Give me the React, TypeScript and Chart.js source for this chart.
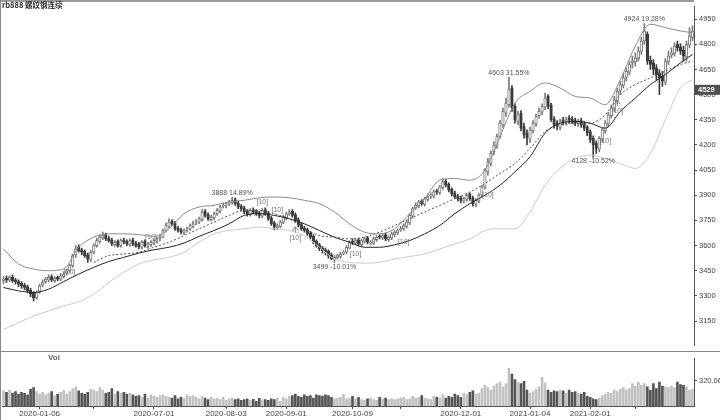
import React, { useEffect, useRef } from "react";
import { Chart, registerables } from "chart.js";
Chart.register(...registerables);

const title = "rb888 螺纹钢连续";

const opens = [
  3390,3405,3395,3410,3395,3385,3375,3365,3355,3335,
  3315,3290,3325,3365,3385,3395,3415,3390,3410,3400,
  3415,3435,3450,3480,3545,3590,3575,3565,3545,3515,
  3560,3600,3625,3645,3665,3645,3635,3605,3625,3600,
  3635,3625,3605,3635,3615,3610,3590,3625,3595,3605,
  3615,3625,3640,3650,3690,3715,3745,3735,3705,3695,
  3675,3690,3700,3715,3735,3740,3755,3805,3785,3755,
  3765,3790,3805,3835,3835,3855,3855,3875,3855,3835,
  3825,3805,3785,3815,3805,3795,3775,3815,3795,3765,
  3735,3705,3715,3740,3765,3790,3805,3785,3755,3725,
  3705,3695,3675,3655,3625,3605,3585,3575,3565,3545,
  3515,3530,3535,3555,3560,3585,3625,3615,3635,3605,
  3625,3645,3615,3615,3635,3655,3645,3665,3635,3645,
  3665,3675,3695,3700,3715,3735,3775,3825,3835,3865,
  3845,3875,3895,3895,3925,3915,3945,3985,3965,3935,
  3915,3895,3885,3865,3875,3905,3885,3845,3865,3900,
  3950,4040,4090,4160,4195,4250,4320,4390,4440,4540,
  4430,4340,4390,4310,4270,4235,4285,4325,4375,4395,
  4425,4490,4440,4355,4330,4305,4350,4335,4360,4355,
  4345,4325,4345,4325,4305,4280,4240,4210,4175,4235,
  4285,4325,4375,4420,4465,4525,4555,4605,4635,4690,
  4695,4715,4760,4820,4860,4705,4690,4660,4630,4610,
  4575,4695,4735,4745,4800,4785,4765,4725,4795,4840,
];

const highs = [
  3415,3420,3420,3425,3405,3395,3385,3375,3365,3345,
  3325,3330,3370,3395,3410,3425,3425,3415,3420,3435,
  3445,3460,3490,3550,3600,3605,3585,3575,3555,3570,
  3610,3645,3665,3680,3675,3655,3645,3630,3635,3640,
  3645,3635,3640,3645,3625,3620,3630,3635,3620,3630,
  3640,3650,3665,3700,3735,3760,3755,3745,3715,3705,
  3700,3710,3730,3745,3755,3770,3815,3815,3795,3780,
  3800,3820,3840,3855,3860,3870,3888,3885,3865,3845,
  3835,3815,3820,3825,3815,3805,3820,3825,3805,3775,
  3745,3730,3750,3780,3800,3815,3815,3795,3765,3735,
  3715,3705,3685,3665,3635,3615,3595,3585,3575,3555,
  3540,3550,3560,3570,3600,3630,3640,3640,3645,3640,
  3650,3655,3630,3650,3660,3665,3670,3675,3660,3680,
  3690,3700,3715,3730,3750,3790,3830,3855,3870,3875,
  3890,3905,3915,3930,3935,3960,4000,3995,3975,3945,
  3925,3905,3895,3890,3910,3915,3895,3880,3910,3960,
  4060,4120,4165,4220,4265,4345,4420,4480,4603,4555,
  4445,4400,4405,4330,4290,4305,4345,4385,4420,4445,
  4510,4500,4450,4370,4345,4355,4365,4365,4375,4370,
  4360,4355,4360,4340,4315,4290,4255,4225,4250,4300,
  4345,4395,4440,4490,4540,4580,4625,4660,4700,4730,
  4750,4785,4840,4924,4875,4730,4710,4680,4650,4640,
  4715,4760,4780,4810,4820,4805,4790,4820,4900,4910,
];

const lows = [
  3375,3380,3385,3380,3370,3355,3345,3335,3320,3295,
  3270,3280,3315,3355,3375,3385,3385,3380,3390,3390,
  3405,3425,3440,3470,3530,3560,3545,3530,3500,3505,
  3550,3590,3615,3635,3630,3620,3600,3595,3590,3590,
  3610,3600,3595,3600,3590,3580,3580,3590,3585,3595,
  3605,3615,3630,3645,3680,3705,3720,3690,3680,3670,
  3665,3680,3690,3705,3725,3730,3745,3770,3750,3745,
  3755,3780,3795,3825,3825,3840,3845,3840,3820,3805,
  3790,3775,3775,3790,3780,3765,3765,3780,3750,3720,
  3693,3695,3705,3730,3755,3780,3770,3740,3710,3690,
  3680,3660,3640,3610,3590,3570,3555,3545,3525,3515,
  3499,3520,3525,3545,3550,3580,3605,3605,3600,3595,
  3615,3610,3605,3605,3625,3640,3635,3630,3625,3635,
  3655,3665,3685,3690,3705,3725,3765,3815,3825,3840,
  3835,3865,3880,3885,3905,3905,3935,3950,3920,3895,
  3880,3865,3855,3855,3865,3870,3835,3830,3855,3890,
  3940,4020,4075,4140,4180,4240,4305,4370,4425,4400,
  4330,4320,4285,4240,4200,4215,4270,4310,4360,4380,
  4410,4415,4340,4300,4290,4290,4320,4320,4330,4325,
  4315,4310,4305,4285,4255,4215,4128,4150,4160,4220,
  4270,4310,4360,4400,4450,4500,4540,4580,4620,4660,
  4670,4700,4740,4800,4680,4650,4620,4590,4500,4550,
  4560,4680,4720,4730,4760,4740,4700,4700,4780,4820,
];

const closes = [
  3400,3395,3410,3390,3385,3370,3360,3350,3330,3310,
  3290,3320,3360,3380,3400,3410,3395,3405,3400,3420,
  3430,3450,3480,3540,3580,3570,3560,3540,3520,3560,
  3600,3630,3650,3660,3640,3630,3610,3620,3600,3630,
  3620,3610,3630,3610,3600,3590,3620,3600,3610,3620,
  3630,3640,3650,3690,3720,3740,3730,3700,3690,3680,
  3690,3700,3720,3730,3740,3760,3800,3780,3760,3770,
  3790,3810,3830,3840,3850,3860,3870,3850,3830,3820,
  3800,3790,3810,3800,3790,3780,3810,3790,3760,3730,
  3710,3720,3740,3770,3790,3800,3780,3750,3720,3700,
  3690,3670,3650,3620,3600,3580,3570,3560,3540,3520,
  3530,3540,3550,3560,3590,3620,3620,3630,3610,3630,
  3640,3620,3620,3640,3650,3650,3660,3640,3650,3670,
  3680,3690,3700,3720,3740,3780,3820,3840,3860,3850,
  3880,3890,3900,3920,3920,3950,3980,3960,3930,3910,
  3890,3880,3870,3880,3900,3880,3850,3870,3900,3950,
  4050,4100,4150,4200,4250,4330,4400,4450,4530,4420,
  4350,4380,4300,4260,4240,4290,4330,4370,4400,4430,
  4480,4430,4350,4320,4310,4340,4340,4350,4350,4340,
  4330,4340,4320,4300,4270,4230,4200,4180,4240,4290,
  4330,4380,4420,4470,4520,4560,4600,4640,4680,4700,
  4720,4760,4820,4880,4700,4680,4650,4620,4600,4580,
  4700,4730,4750,4790,4780,4760,4730,4800,4850,4880,
];

const volumes = [
  190,170,200,160,180,150,170,160,140,210,
  230,180,150,170,140,160,180,130,150,170,
  200,150,180,220,240,190,160,150,170,210,
  200,180,230,200,160,170,220,150,180,160,
  170,150,160,140,120,130,110,150,100,140,
  120,110,130,140,120,110,100,130,90,110,
  100,140,120,130,110,90,120,100,80,110,
  90,100,80,110,70,90,100,80,90,70,
  80,90,70,85,60,95,75,80,70,90,
  80,100,60,110,90,120,130,150,120,110,
  140,120,130,100,140,130,120,140,130,110,
  90,100,110,150,90,100,120,90,110,80,
  70,90,100,80,70,110,90,100,80,90,
  80,90,100,110,80,90,120,100,110,130,
  100,90,80,120,110,100,140,100,120,110,
  150,130,110,160,140,170,190,150,160,220,
  260,230,200,250,280,300,240,280,474,400,
  330,300,280,310,200,160,180,210,240,360,
  290,200,170,190,180,200,190,160,200,170,
  180,160,150,170,120,110,90,80,100,130,
  150,170,160,200,180,210,230,200,220,280,
  250,300,260,280,240,200,280,220,300,250,
  240,230,250,230,300,270,260,240,200,210,
];

// Bollinger band readings (sampled every 5 bars)
const bandIdx = [0,5,10,15,20,25,30,35,40,45,50,55,60,65,70,75,80,85,90,95,100,105,110,115,120,125,130,135,140,145,150,155,160,165,170,175,180,185,190,195,200,205,210,215,220,225,229];
const upperBand = [3580,3490,3460,3450,3460,3590,3650,3670,3670,3665,3655,3700,3790,3830,3840,3860,3870,3885,3890,3885,3870,3850,3800,3730,3680,3670,3700,3790,3880,3990,4000,3990,4050,4250,4450,4520,4570,4540,4490,4480,4440,4590,4790,4920,4900,4880,4870];
const midBand = [3350,3330,3320,3340,3385,3430,3470,3505,3530,3555,3575,3590,3615,3655,3690,3730,3780,3790,3780,3760,3730,3690,3650,3620,3590,3590,3605,3630,3670,3720,3790,3850,3900,3960,4040,4130,4270,4330,4340,4330,4300,4400,4480,4560,4620,4690,4740];
const lowerBand = [3100,3140,3180,3210,3240,3265,3310,3380,3440,3490,3515,3530,3560,3620,3670,3690,3700,3710,3700,3690,3660,3590,3520,3500,3495,3500,3520,3535,3550,3580,3610,3640,3690,3700,3700,3800,3960,4060,4120,4140,4120,4090,4060,4150,4350,4540,4590];

// dashed moving average (sampled every 5 bars)
const maIdx = [30,35,40,45,50,55,60,65,70,75,80,85,90,95,100,105,110,115,120,125,130,135,140,145,150,155,160,165,170,175,180,185,190,195,200,205,210,215,220,225,229];
const maLine = [3500,3540,3550,3560,3590,3620,3660,3700,3740,3780,3810,3810,3790,3760,3700,3660,3650,3640,3650,3680,3720,3760,3800,3840,3880,3920,3970,4030,4090,4180,4280,4320,4330,4330,4380,4500,4560,4600,4640,4680,4700];

const dateTicks = [12,30,50,74,94,116,132,152,175,195,210];
const dateLabels = ["2020-01-06","","2020-07-01","2020-08-03","2020-09-01","2020-10-09","","2020-12-01","2021-01-04","2021-02-01",""];
const priceTicks = [3150,3300,3450,3600,3750,3900,4050,4200,4350,4500,4650,4800,4950];
const volTicks = [320.06];

const extremeIdx = [76,110,168,196,213];
const extremeLabels = ["3888 14.89%","3499 -10.01%","4603 31.55%","4128 -10.52%","4924 19.28%"];
const extremeIsHigh = [true,false,true,false,true];

const signalIdx = [22,49,86,91,97,117,133,161,200,204];
const signalPrice = [3440,3653,3857,3810,3647,3547,3623,3904,4225,4400];
const signalArrow = [false,false,false,false,true,false,false,false,false,true];

const lastPrice = 4529;

const N = closes.length;
const FONT = "'Liberation Sans', Arial, sans-serif";

export default function App() {
  const mainRef = useRef<HTMLCanvasElement>(null);
  const volRef = useRef<HTMLCanvasElement>(null);

  useEffect(() => {
    const isUp = (i: number) => closes[i] >= opens[i];
    const idx = closes.map((_, i) => i);

    const mainPlugin = {
      id: "mainDeco",
      afterDraw(chart: any) {
        const { ctx, scales, chartArea } = chart;
        const x = scales.x, y = scales.y;
        ctx.save();
        ctx.strokeStyle = "#9a9a9a"; ctx.lineWidth = 2;
        ctx.beginPath(); ctx.moveTo(0, 1); ctx.lineTo(chartArea.right, 1); ctx.stroke();
        ctx.strokeStyle = "#888"; ctx.lineWidth = 1;
        ctx.beginPath(); ctx.moveTo(0.5, 0); ctx.lineTo(0.5, 352); ctx.stroke();
        ctx.beginPath(); ctx.moveTo(0, 351.5); ctx.lineTo(720, 351.5); ctx.stroke();
        ctx.fillStyle = "#333"; ctx.font = "bold 7.5px 'Noto Sans CJK SC', sans-serif";
        ctx.textAlign = "left"; ctx.textBaseline = "top";
        ctx.fillText(title, 2, 1);
        ctx.font = "7px " + FONT; ctx.fillStyle = "#555"; ctx.textAlign = "center";
        extremeIdx.forEach((i, k) => {
          const px = x.getPixelForValue(i);
          if (extremeIsHigh[k]) {
            ctx.textBaseline = "bottom";
            ctx.fillText(extremeLabels[k], px, y.getPixelForValue(highs[i]) - 1);
          } else {
            ctx.textBaseline = "top";
            ctx.fillText(extremeLabels[k], px, y.getPixelForValue(lows[i]) + 1);
          }
        });
        ctx.fillStyle = "#777"; ctx.textBaseline = "middle";
        signalIdx.forEach((i, k) => {
          const px = x.getPixelForValue(i), py = y.getPixelForValue(signalPrice[k]);
          ctx.fillText("[10]", px, py);
          if (signalArrow[k]) {
            ctx.strokeStyle = "#888"; ctx.lineWidth = 1;
            ctx.beginPath();
            ctx.moveTo(px - 3, py - 7); ctx.lineTo(px, py - 11); ctx.lineTo(px + 3, py - 7);
            ctx.moveTo(px, py - 11); ctx.lineTo(px, py - 5);
            ctx.stroke();
          }
        });
        const ly = y.getPixelForValue(lastPrice);
        ctx.fillStyle = "#505050";
        ctx.fillRect(chartArea.right + 1, ly - 5, 720 - chartArea.right - 1, 10);
        ctx.fillStyle = "#fff"; ctx.font = "bold 7.5px " + FONT;
        ctx.textAlign = "left"; ctx.textBaseline = "middle";
        ctx.fillText(String(lastPrice), chartArea.right + 4, ly);
        ctx.restore();
      },
    };

    const lineDs = (label: string, xs: number[], ys: number[], color: string, dash: number[] = []) => ({
      type: "line" as const,
      label,
      data: xs.map((v, k) => ({ x: v, y: ys[k] })),
      borderColor: color,
      borderWidth: 1,
      borderDash: dash,
      pointRadius: 0,
      tension: 0.4,
      cubicInterpolationMode: "monotone" as const,
      fill: false,
    });

    const main = new Chart(mainRef.current!, {
      type: "bar",
      data: {
        datasets: [
          lineDs("mid", bandIdx, midBand, "#222"),
          lineDs("upper", bandIdx, upperBand, "#8c8c8c"),
          lineDs("lower", bandIdx, lowerBand, "#cacaca"),
          lineDs("ma", maIdx, maLine, "#555", [2, 2]),
          {
            type: "bar",
            label: "body",
            data: idx.map((i) => ({ x: i, y: [Math.min(opens[i], closes[i]), Math.max(opens[i], closes[i])] })),
            backgroundColor: idx.map((i) => (isUp(i) ? "#ffffff" : "#3c3c3c")),
            borderColor: idx.map((i) => (isUp(i) ? "#7a7a7a" : "#3c3c3c")),
            borderWidth: 1,
            borderSkipped: false,
            barThickness: 2.6,
            grouped: false,
          } as any,
          {
            type: "bar",
            label: "wick",
            data: idx.map((i) => ({ x: i, y: [lows[i], highs[i]] })),
            backgroundColor: idx.map((i) => (isUp(i) ? "#7a7a7a" : "#3c3c3c")),
            barThickness: 1,
            grouped: false,
          } as any,
        ],
      },
      options: {
        animation: false,
        responsive: false,
        devicePixelRatio: 1,
        layout: { padding: { left: 2, top: 5, right: 0, bottom: 1 } },
        plugins: { legend: { display: false }, tooltip: { enabled: false } },
        scales: {
          x: { type: "linear", offset: false, min: -0.5, max: N - 0.5, display: false },
          y: {
            type: "linear",
            position: "right",
            min: 3004,
            max: 5026,
            afterBuildTicks: (s: any) => { s.ticks = priceTicks.map((v) => ({ value: v })); },
            afterFit: (s: any) => { s.width = 26; },
            grid: { display: true, drawOnChartArea: false, drawTicks: true, tickLength: 3, color: "#555" },
            border: { display: true, color: "#555" },
            ticks: { font: { family: FONT, size: 7.5 }, color: "#444", padding: 2, callback: (v: any) => String(v) },
          },
        },
      },
      plugins: [mainPlugin],
    } as any);

    const volPlugin = {
      id: "volDeco",
      afterDraw(chart: any) {
        const { ctx } = chart;
        ctx.save();
        ctx.strokeStyle = "#888"; ctx.lineWidth = 1;
        ctx.beginPath(); ctx.moveTo(0.5, 0); ctx.lineTo(0.5, 68); ctx.stroke();
        ctx.fillStyle = "#666"; ctx.font = "bold 8px " + FONT;
        ctx.textAlign = "left"; ctx.textBaseline = "top";
        ctx.fillText("Vol", 48, 2);
        ctx.restore();
      },
    };

    const vol = new Chart(volRef.current!, {
      type: "bar",
      data: {
        datasets: [
          {
            label: "vol",
            data: idx.map((i) => ({ x: i, y: volumes[i] })),
            backgroundColor: idx.map((i) => (isUp(i) ? "#c2c2c2" : "#555555")),
            barThickness: 2,
          },
        ],
      },
      options: {
        animation: false,
        responsive: false,
        devicePixelRatio: 1,
        layout: { padding: { left: 2, top: 0, right: 0, bottom: 0 } },
        plugins: { legend: { display: false }, tooltip: { enabled: false } },
        scales: {
          x: {
            type: "linear",
            offset: false,
            min: -0.5,
            max: N - 0.5,
            afterBuildTicks: (s: any) => { s.ticks = dateTicks.map((v) => ({ value: v })); },
            afterFit: (s: any) => { s.height = 14; },
            grid: { display: true, offset: false, drawOnChartArea: false, drawTicks: true, tickLength: 3, color: "#555" },
            border: { display: true, color: "#555" },
            ticks: {
              autoSkip: false, maxRotation: 0, minRotation: 0, padding: 0,
              font: { family: FONT, size: 8 }, color: "#444",
              callback: (v: any) => { const k = dateTicks.indexOf(v); return k >= 0 ? dateLabels[k] : ""; },
            },
          },
          y: {
            type: "linear",
            position: "right",
            min: 0,
            max: 596,
            afterBuildTicks: (s: any) => { s.ticks = volTicks.map((v) => ({ value: v })); },
            afterFit: (s: any) => { s.width = 26; },
            grid: { display: true, drawOnChartArea: false, drawTicks: true, tickLength: 3, color: "#555" },
            border: { display: true, color: "#555" },
            ticks: { font: { family: FONT, size: 7.5 }, color: "#444", padding: 2, callback: (v: any) => Number(v).toFixed(2) },
          },
        },
      },
      plugins: [volPlugin],
    } as any);

    return () => { main.destroy(); vol.destroy(); };
  }, []);

  return (
    <div style={{ position: "fixed", left: 0, top: 0, width: 720, height: 420, background: "#fff" }}>
      <canvas ref={mainRef} width={720} height={352} style={{ position: "absolute", left: 0, top: 0, width: 720, height: 352 }} />
      <canvas ref={volRef} width={720} height={68} style={{ position: "absolute", left: 0, top: 352, width: 720, height: 68 }} />
    </div>
  );
}
